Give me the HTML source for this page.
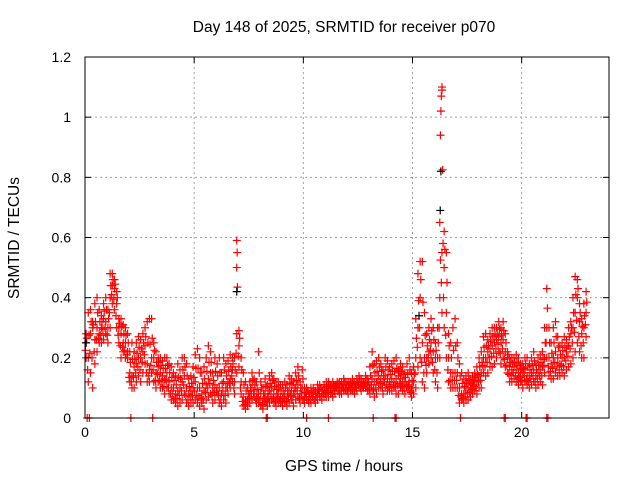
<!DOCTYPE html>
<html><head><meta charset="utf-8"><style>
body{margin:0;background:#fff}
svg{display:block;font-family:"Liberation Sans",sans-serif}
</style></head><body>
<svg id="chart" width="640" height="480">
<text x="344" y="32" font-size="15.5" text-anchor="middle">Day 148 of 2025, SRMTID for receiver p070</text>
<text x="344" y="471" font-size="15.5" text-anchor="middle">GPS time / hours</text>
<text transform="translate(19,238) rotate(-90)" font-size="15.5" text-anchor="middle">SRMTID / TECUs</text>
<g id="grid"></g><g id="marks"></g><g id="axes"></g>
</svg>
<script>
const xTicks=[0,5,10,15,20];
const yTicks=[0,0.2,0.4,0.6,0.8,1,1.2];
const yTickLabels=["0","0.2","0.4","0.6","0.8","1","1.2"];
const lo=[0.2,0.12,0.15,0.1,0.18,0.22,0.25,0.25,0.26,0.28,
0.25,0.3,0.38,0.36,0.3,0.25,0.2,0.22,0.2,0.2,
0.12,0.1,0.1,0.12,0.14,0.12,0.15,0.18,0.12,0.12,
0.15,0.12,0.1,0.12,0.1,0.1,0.08,0.1,0.08,0.06,
0.06,0.05,0.04,0.05,0.06,0.08,0.05,0.04,0.05,0.05,
0.06,0.05,0.04,0.05,0.03,0.06,0.07,0.08,0.05,0.06,
0.08,0.05,0.04,0.06,0.05,0.08,0.1,0.12,0.08,0.15,
0.17,0.08,0.04,0.03,0.04,0.05,0.06,0.07,0.05,0.05,
0.04,0.03,0.05,0.04,0.05,0.06,0.05,0.04,0.05,0.05,
0.04,0.05,0.04,0.05,0.06,0.04,0.06,0.07,0.05,0.06,
0.05,0.06,0.05,0.05,0.06,0.05,0.06,0.07,0.06,0.07,
0.07,0.07,0.08,0.07,0.08,0.09,0.08,0.08,0.09,0.09,
0.08,0.09,0.09,0.08,0.09,0.1,0.09,0.1,0.1,0.09,
0.08,0.09,0.07,0.08,0.1,0.1,0.08,0.1,0.09,0.09,
0.09,0.1,0.08,0.08,0.1,0.09,0.08,0.1,0.09,0.07,
0.08,0.1,0.17,0.2,0.12,0.1,0.15,0.18,0.2,0.15,
0.12,0.1,0.2,0.35,0.3,0.2,0.12,0.1,0.1,0.1,
0.1,0.05,0.06,0.05,0.06,0.06,0.07,0.08,0.09,0.08,
0.1,0.1,0.15,0.14,0.15,0.17,0.17,0.18,0.2,0.22,
0.18,0.2,0.17,0.15,0.12,0.12,0.13,0.12,0.11,0.12,
0.1,0.12,0.11,0.1,0.11,0.12,0.1,0.11,0.12,0.11,
0.15,0.2,0.14,0.13,0.13,0.15,0.14,0.14,0.15,0.14,
0.16,0.17,0.18,0.2,0.22,0.25,0.22,0.2,0.2,0.27];
const mid=[0.25,0.2,0.28,0.3,0.26,0.3,0.28,0.3,0.33,0.32,
0.3,0.4,0.44,0.43,0.38,0.3,0.28,0.25,0.25,0.22,
0.15,0.14,0.17,0.18,0.2,0.2,0.22,0.24,0.18,0.16,
0.2,0.2,0.15,0.17,0.15,0.14,0.13,0.15,0.12,0.1,
0.1,0.08,0.09,0.1,0.12,0.14,0.1,0.08,0.09,0.1,
0.12,0.1,0.1,0.08,0.09,0.11,0.13,0.15,0.1,0.11,
0.1,0.1,0.08,0.12,0.1,0.12,0.13,0.16,0.12,0.28,
0.24,0.12,0.07,0.06,0.06,0.08,0.1,0.09,0.07,0.08,
0.08,0.06,0.08,0.07,0.09,0.1,0.08,0.07,0.08,0.07,
0.07,0.08,0.07,0.09,0.09,0.08,0.1,0.11,0.08,0.1,
0.07,0.08,0.07,0.07,0.08,0.07,0.08,0.09,0.08,0.09,
0.09,0.1,0.1,0.09,0.1,0.11,0.1,0.1,0.11,0.1,
0.1,0.11,0.1,0.1,0.11,0.12,0.11,0.11,0.12,0.11,
0.11,0.13,0.12,0.12,0.14,0.13,0.12,0.14,0.13,0.12,
0.13,0.12,0.13,0.14,0.13,0.12,0.12,0.11,0.12,0.1,
0.12,0.2,0.3,0.4,0.25,0.2,0.2,0.22,0.25,0.22,
0.2,0.2,0.4,0.55,0.5,0.35,0.2,0.15,0.15,0.15,
0.15,0.1,0.08,0.08,0.1,0.1,0.1,0.11,0.12,0.12,
0.14,0.15,0.2,0.2,0.22,0.23,0.24,0.25,0.26,0.27,
0.25,0.26,0.22,0.2,0.17,0.16,0.17,0.16,0.15,0.15,
0.15,0.16,0.14,0.14,0.15,0.16,0.14,0.15,0.16,0.17,
0.2,0.3,0.2,0.18,0.2,0.22,0.2,0.18,0.2,0.2,
0.22,0.24,0.28,0.3,0.35,0.4,0.32,0.28,0.3,0.35];
const hi=[0.28,0.35,0.36,0.32,0.38,0.4,0.36,0.34,0.38,0.4,
0.36,0.48,0.48,0.46,0.42,0.33,0.33,0.31,0.3,0.28,
0.22,0.25,0.22,0.25,0.27,0.26,0.28,0.3,0.32,0.33,
0.33,0.25,0.22,0.2,0.2,0.19,0.2,0.2,0.18,0.17,
0.15,0.14,0.18,0.16,0.2,0.2,0.18,0.13,0.14,0.17,
0.21,0.23,0.2,0.15,0.17,0.2,0.24,0.22,0.15,0.2,
0.18,0.2,0.15,0.2,0.18,0.19,0.21,0.2,0.2,0.59,
0.29,0.2,0.15,0.12,0.1,0.12,0.15,0.13,0.12,0.22,
0.12,0.1,0.13,0.11,0.14,0.15,0.13,0.12,0.12,0.11,
0.11,0.12,0.11,0.14,0.13,0.12,0.15,0.17,0.12,0.16,
0.1,0.1,0.09,0.1,0.1,0.09,0.11,0.11,0.1,0.11,
0.12,0.12,0.11,0.12,0.11,0.12,0.12,0.12,0.13,0.12,
0.12,0.12,0.13,0.12,0.13,0.14,0.13,0.12,0.14,0.13,
0.17,0.22,0.18,0.19,0.2,0.18,0.16,0.2,0.19,0.17,
0.18,0.19,0.2,0.16,0.18,0.17,0.15,0.18,0.2,0.15,
0.17,0.33,0.48,0.52,0.52,0.35,0.28,0.3,0.33,0.3,
0.25,0.3,0.65,1.1,0.62,0.55,0.28,0.25,0.3,0.33,
0.25,0.18,0.15,0.13,0.14,0.15,0.13,0.14,0.15,0.17,
0.2,0.22,0.27,0.28,0.26,0.28,0.3,0.3,0.3,0.32,
0.3,0.32,0.28,0.22,0.2,0.2,0.2,0.21,0.2,0.18,
0.18,0.2,0.2,0.18,0.2,0.22,0.18,0.2,0.21,0.22,
0.3,0.43,0.3,0.25,0.3,0.32,0.27,0.24,0.25,0.27,
0.26,0.3,0.32,0.4,0.47,0.46,0.38,0.33,0.38,0.42];
const spikeTimes=[6.95,6.97,16.28,16.3,16.32,16.35,16.4];
const spikeVals=[0.5,0.55,0.94,1.02,1.07,1.09,0.58];
const blackTimes=[6.95,16.27,16.3,15.3,0.05];
const blackVals=[0.42,0.69,0.82,0.34,0.25];
const zeroTimes=[0.1,0.2,2.1,3.1,8.3,8.35,10.15,11.15,13.2,14.2,14.25,17.2,19.2,19.25,20.2,20.25,21.15,21.2];

const X0=85,X1=609,Y0=418,Y1=57;
const xs=t=>X0+(t/24)*(X1-X0);
const ys=v=>Y0-(v/1.2)*(Y0-Y1);
const NS="http://www.w3.org/2000/svg";
function mk(tag,attrs,parent){const e=document.createElementNS(NS,tag);for(const k in attrs)e.setAttribute(k,attrs[k]);parent.appendChild(e);return e;}
const grid=document.getElementById('grid'),marks=document.getElementById('marks'),axes=document.getElementById('axes');
xTicks.forEach(t=>{const x=xs(t);
 if(t>0){const g=mk('line',{x1:x,x2:x,y1:Y1,y2:Y0,stroke:'#a0a0a0','stroke-dasharray':'2,3'},grid);
 
 }
 const l=mk('text',{x:x,y:Y0+19,'font-size':14,'text-anchor':'middle'},axes);l.textContent=t;
 
 
 mk('line',{x1:x,x2:x,y1:Y0,y2:Y0-6,stroke:'#000'},axes);mk('line',{x1:x,x2:x,y1:Y1,y2:Y1+6,stroke:'#000'},axes);
});
yTicks.forEach((v,i)=>{const y=ys(v);
 if(i>0&&i<yTicks.length-1){const g=mk('line',{x1:X0,x2:X1,y1:y,y2:y,stroke:'#a0a0a0','stroke-dasharray':'2,3'},grid);
 
 }
 const l=mk('text',{x:X0-14,y:y+5,'font-size':14,'text-anchor':'end'},axes);l.textContent=yTickLabels[i];
 
 
 mk('line',{x1:X0,x2:X0+6,y1:y,y2:y,stroke:'#000'},axes);mk('line',{x1:X1,x2:X1-6,y1:y,y2:y,stroke:'#000'},axes);
});
const frame=mk('rect',{x:X0,y:Y1,width:X1-X0,height:Y0-Y1,fill:'none',stroke:'#000'},axes);


function plus(t,v,color){const x=xs(t),y=ys(v);
 const p=mk('path',{d:`M${x-4},${y}h8M${x},${y-4}v8`,stroke:color,'stroke-width':1.2,fill:'none'},marks);
 
 }
[lo,mid,hi].forEach(arr=>arr.forEach((v,i)=>{plus(i*0.1+0.05,v,'#ff0000');}));
lo.forEach((v,i)=>{const a=(v+mid[i])/2,b=(mid[i]+hi[i])/2;plus(i*0.1+0.02,a,'#ff0000');plus(i*0.1+0.08,b,'#ff0000');});
blackTimes.forEach((t,i)=>plus(t,blackVals[i],'#000'));
spikeTimes.forEach((t,i)=>plus(t,spikeVals[i],'#ff0000'));
zeroTimes.forEach(t=>plus(t,0,'#ff0000'));
</script>
</body></html>
